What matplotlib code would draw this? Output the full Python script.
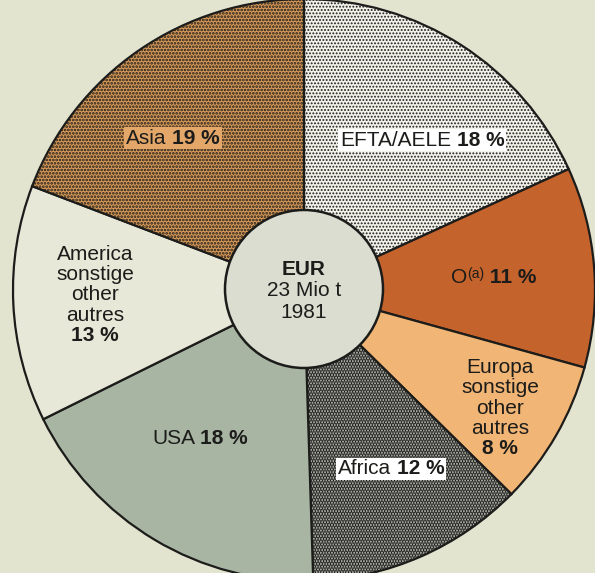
import numpy as np
import matplotlib
matplotlib.use("Agg")
import matplotlib.pyplot as plt
from matplotlib.offsetbox import (TextArea, HPacker, VPacker, DrawingArea,
                                  AnnotationBbox)

plt.rcParams["font.family"] = ["Liberation Sans", "DejaVu Sans"]
plt.rcParams["hatch.linewidth"] = 1.0

# ── data (clockwise from 12 o'clock) ─────────────────────────────────────────
regions = ["EFTA/AELE", "O", "Europa\nsonstige\nother\nautres", "Africa",
           "USA", "America\nsonstige\nother\nautres", "Asia"]
shares = [18, 11, 8, 12, 18, 13, 19]
centre_lines = ["EUR", "23 Mio t", "1981"]

# ── styles ───────────────────────────────────────────────────────────────────
BG = "#e2e4d0"
INK = "#1c1c1a"
face = ["#f2f2ea", "#c5632c", "#f1b575", "#c9c9c2", "#a8b5a3", "#e7e8d8", "#d99a58"]
hatch = [".....", None, None, "......", None, None, "....."]
hatch_col = ["#3a3a38", None, None, "#111111", None, None, "#5a3012"]
hatch_lw = [0.9, 0, 0, 1.8, 0, 0, 1.3]
label_xy = [(422, 140), (494, 277), (500, 408), (391, 469),
            (200, 438), (95, 295), (173, 138)]
label_box = ["white", None, None, "white", None, None, "#e3a76a"]
FS = 15

W, H = 595, 573
CX, CY, R = 304, 290, 291

fig = plt.figure(figsize=(W / 100, H / 100), dpi=100, facecolor=BG)
ax = fig.add_axes([0, 0, 1, 1])
ax.set_facecolor(BG)

wedges, _ = ax.pie(shares, startangle=90, counterclock=False,
                   center=(CX, H - CY), radius=R, colors=face,
                   wedgeprops=dict(edgecolor=INK, linewidth=1.6))
for w, h, hc, hl in zip(wedges, hatch, hatch_col, hatch_lw):
    if h:
        w.set_hatch(h)
        if hasattr(w, "set_hatchcolor"):
            w.set_hatchcolor(hc)
        if hasattr(w, "set_hatch_linewidth"):
            w.set_hatch_linewidth(hl)

ax.add_patch(plt.Circle((CX, H - 289), 79, facecolor="#dcddd1",
                        edgecolor=INK, lw=1.8, zorder=3))
ax.set_xlim(0, W); ax.set_ylim(0, H); ax.set_aspect("equal")
ax.axis("off")


def ta(t, bold=False, fs=FS):
    return TextArea(t, textprops=dict(fontsize=fs, color=INK,
                                      fontweight="bold" if bold else "normal"))


def put(box, xy, bg=None):
    ab = AnnotationBbox(box, (xy[0], H - xy[1]), frameon=bg is not None,
                        pad=0.12, box_alignment=(0.5, 0.5),
                        bboxprops=dict(facecolor=bg or "none", edgecolor="none"))
    ab.set_zorder(5)
    ax.add_artist(ab)


for name, share, xy, bg in zip(regions, shares, label_xy, label_box):
    pct = f"{share} %"
    if name == "O":
        sup = VPacker(children=[ta("(a)", fs=10), DrawingArea(1, 4.5)],
                      align="left", pad=0, sep=0)
        box = HPacker(children=[ta("O"), sup, ta(" " + pct, bold=True)],
                      align="bottom", pad=0, sep=0)
    elif "\n" in name:
        rows = [HPacker(children=[ta(s)], pad=0, sep=0) for s in name.split("\n")]
        rows.append(HPacker(children=[ta(pct, bold=True)], pad=0, sep=0))
        box = VPacker(children=rows, align="center", pad=0, sep=1)
    else:
        box = HPacker(children=[ta(name), ta(pct, bold=True)],
                      align="baseline", pad=0, sep=4)
    put(box, xy, bg)

rows = [HPacker(children=[ta(s, bold=(i == 0))], pad=0, sep=0)
        for i, s in enumerate(centre_lines)]
put(VPacker(children=rows, align="center", pad=0, sep=2), (CX, 291))

fig.savefig("out.png", dpi=100, facecolor=BG)
